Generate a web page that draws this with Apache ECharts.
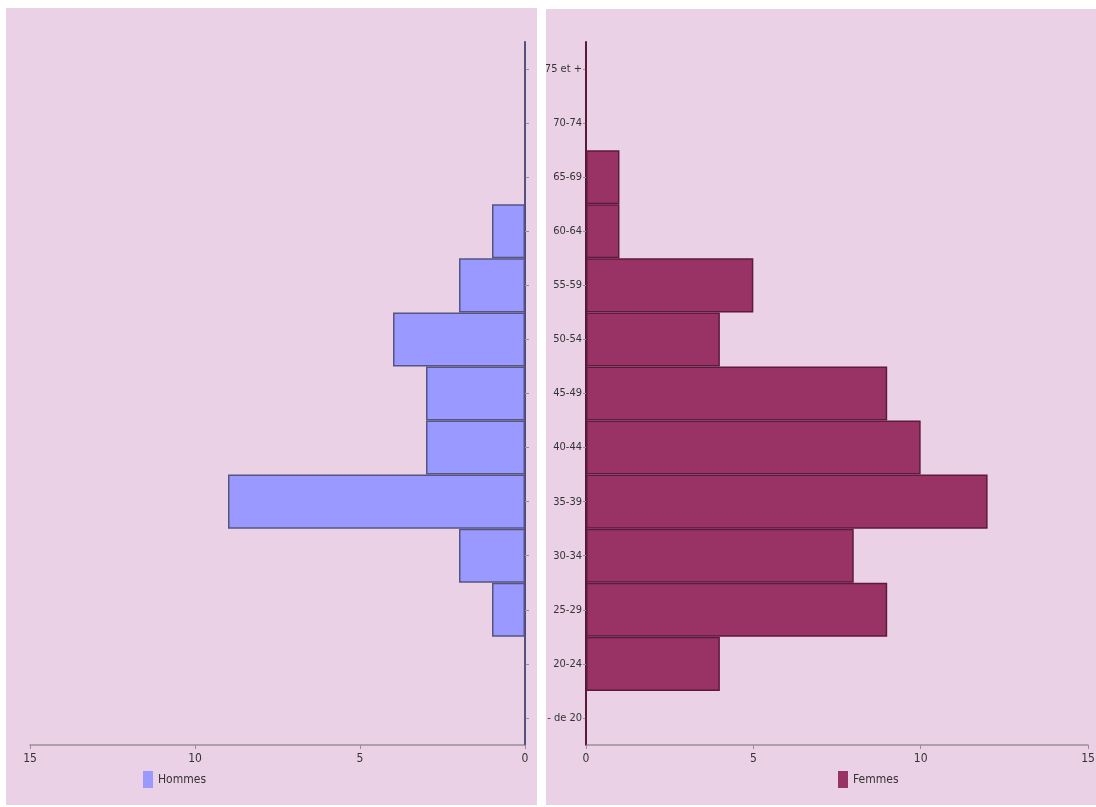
<!DOCTYPE html>
<html><head><meta charset="utf-8">
<script src="https://cdn.jsdelivr.net/npm/echarts@6/dist/echarts.min.js"></script>
<style>
html,body{margin:0;padding:0;background:#fff;width:1096px;height:807px;overflow:hidden;}
#left{position:absolute;left:6px;top:8px;width:531px;height:797px;background:#EBD1E5;}
#right{position:absolute;left:546px;top:9px;width:550px;height:796px;background:#EBD1E5;}
</style></head>
<body>
<div id="left"></div><div id="right"></div>
<script>
const categories = ["- de 20","20-24","25-29","30-34","35-39","40-44","45-49","50-54","55-59","60-64","65-69","70-74","75 et +"];
const hommes = [0,0,1,2,9,3,3,4,2,1,0,0,0];
const femmes = [0,4,9,8,12,10,9,4,5,1,1,0,0];
const xTicks = [0,5,10,15];

const FONT = '"DejaVu Sans Condensed","DejaVu Sans",sans-serif';
const WEIGHT = 'condensed';

function xAxisCfg(inverse){
  return {
    type:'value', min:xTicks[0], max:xTicks[xTicks.length-1], interval:xTicks[1]-xTicks[0], inverse:inverse,
    axisLine:{show:true, lineStyle:{color:'#9a8f98', width:1.5}},
    axisTick:{show:true, length:4, lineStyle:{color:'#9a8f98'}},
    axisLabel:{color:'#333', fontFamily:FONT, fontWeight:WEIGHT, fontSize:12, margin:8},
    splitLine:{show:false}
  };
}

const left = echarts.init(document.getElementById('left'));
left.setOption({
  animation:false,
  grid:{left:24,right:12,top:34,bottom:60,containLabel:false,outerBoundsMode:'none'},
  legend:{left:132,top:758,itemWidth:10,itemHeight:17,itemGap:6,icon:'rect',
    itemStyle:{borderWidth:0},
    textStyle:{fontFamily:FONT,fontWeight:WEIGHT,fontSize:12,color:'#333'},data:['Hommes']},
  xAxis:xAxisCfg(true),
  yAxis:{type:'category', data:categories, position:'right',
    axisLine:{show:true, lineStyle:{color:'#4a4a80', width:2}},
    axisTick:{show:true, alignWithLabel:true, length:4, lineStyle:{color:'#9a8f98'}},
    axisLabel:{show:false}},
  series:[{name:'Hommes', type:'bar', data:hommes, barCategoryGap:'0%',
    itemStyle:{color:'#9999FF', borderColor:'#55557f', borderWidth:1.5}}]
});

const right = echarts.init(document.getElementById('right'));
right.setOption({
  animation:false,
  grid:{left:40,right:8,top:33,bottom:60,containLabel:false,outerBoundsMode:'none'},
  legend:{left:287,top:757,itemWidth:10,itemHeight:17,itemGap:6,icon:'rect',
    itemStyle:{borderWidth:0},
    textStyle:{fontFamily:FONT,fontWeight:WEIGHT,fontSize:12,color:'#333'},data:['Femmes']},
  xAxis:xAxisCfg(false),
  yAxis:{type:'category', data:categories, position:'left',
    axisLine:{show:true, lineStyle:{color:'#4d1a33', width:2}},
    axisTick:{show:true, alignWithLabel:true, length:3, lineStyle:{color:'#9a8f98'}},
    axisLabel:{color:'#333', fontFamily:FONT, fontWeight:WEIGHT, fontSize:11, margin:4}},
  series:[{name:'Femmes', type:'bar', data:femmes, barCategoryGap:'0%',
    itemStyle:{color:'#993366', borderColor:'#5e1a3c', borderWidth:1.5}}]
});
</script>
</body></html>
